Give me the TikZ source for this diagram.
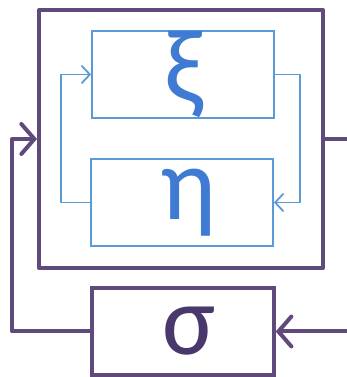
\documentclass[tikz,border=0pt]{standalone}
\usepackage{fontspec}
\setmainfont{Carlito}
\usetikzlibrary{arrows.meta}
\definecolor{loopline}{HTML}{604A7B}
\definecolor{looptext}{HTML}{48386C}
\definecolor{innerline}{HTML}{5B9BD5}
\definecolor{innertext}{HTML}{3F7BD2}
\tikzset{
  outerbox/.style={draw=loopline, line width=4pt, line join=round, minimum width=284pt, minimum height=258pt, inner sep=0pt},
  innerbox/.style={draw=innerline, line width=1.8pt, minimum width=182pt, minimum height=87pt, inner sep=0pt, text=innertext, font=\fontsize{104}{104}\selectfont},
  sigmabox/.style={draw=loopline, line width=3.5pt, minimum width=182pt, minimum height=87pt, inner sep=0pt, text=looptext, font=\fontsize{100}{100}\selectfont},
  innerflow/.style={draw=innerline, line width=1.8pt, line join=round, -{Straight Barb[length=8pt, width=17pt, line cap=round]}},
  outerflow/.style={draw=loopline, line width=4pt, line join=round, line cap=round, -{Straight Barb[length=13pt, width=30pt, line cap=round]}}
}
\begin{document}
\begin{tikzpicture}[x=1pt, y=1pt]
  \useasboundingbox (0,0) rectangle (347,377);
  % outer system and its inner loop
  \node[outerbox] (outer) at (181,238) {};
  \node[innerbox] (xi) at (183,302.5) {\hspace*{2pt}ξ};
  \node[innerbox] (eta) at (182,174.5) {\hspace*{12pt}η};
  % feedback block
  \node[sigmabox] (sigma) at (183,45.5) {\hspace*{12pt}σ};
  % inner loop connectors
  \draw[innerflow] (eta.west) -- ++(-29,0) |- (xi.west);
  \draw[innerflow] (xi.east) -- ++(25,0) |- (eta.east);
  % outer loop connectors
  \coordinate (rightrail) at (348.5,0);
  \coordinate (leftrail) at (12,0);
  \begin{scope}
    \clip (0,0) rectangle (347,377);
    \draw[outerflow] (outer.east) -| (rightrail |- outer.east) |- (sigma.east);
  \end{scope}
  \draw[outerflow] (sigma.west) -| (leftrail |- sigma.west) |- (outer.west);
\end{tikzpicture}
\end{document}
